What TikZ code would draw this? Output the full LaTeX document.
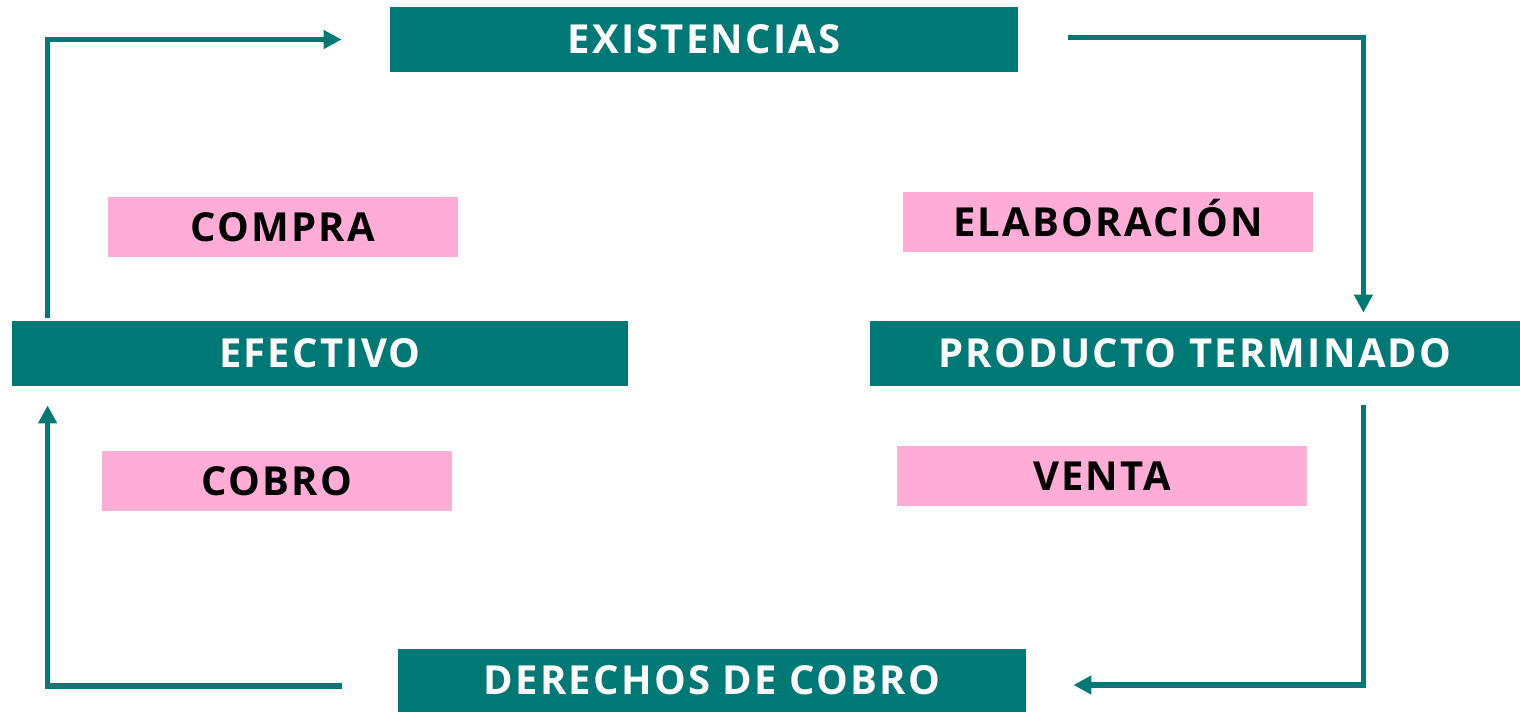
\documentclass[tikz,border=0pt]{standalone}
\usepackage{fontspec}
\setmainfont{Open Sans}[LetterSpace=5.5]
\usetikzlibrary{arrows.meta}
\definecolor{tealc}{RGB}{0,120,118}
\definecolor{pinkc}{RGB}{255,173,214}
\tikzset{
  box/.style={rectangle, inner sep=0pt, font=\fontsize{20}{24}\selectfont\bfseries, text height=14.3pt, text depth=0pt},
  tealbox/.style={box, fill=tealc, text=white, minimum height=32.5pt},
  pinkbox/.style={box, fill=pinkc, text=black, minimum height=30pt},
  arr/.style={draw=tealc, line width=2.75pt, line join=miter, -{Triangle[length=9pt,width=9pt]}}
}
\begin{document}
\begin{tikzpicture}[x=0.5pt,y=-0.5pt]
\useasboundingbox (0,0) rectangle (1520,713);
\node[tealbox, minimum width=314pt] (ex) at (704,39.5) {EXISTENCIAS};
\node[tealbox, minimum width=308pt] (ef) at (320,353.5) {EFECTIVO};
\node[tealbox, minimum width=325pt] (pt) at (1195,353.5) {PRODUCTO TERMINADO};
\node[tealbox, minimum width=314pt, minimum height=31.5pt] (de) at (712,680.5) {DERECHOS DE COBRO};
\node[pinkbox, minimum width=175pt] (compra) at (283,227) {COMPRA};
\node[pinkbox, minimum width=205pt] (elab) at (1108,222) {ELABORACIÓN};
\node[pinkbox, minimum width=175pt] (cobro) at (277,481) {COBRO};
\node[pinkbox, minimum width=205pt] (venta) at (1102,476) {VENTA};
\draw[arr] ([xshift=18pt,yshift=1.5pt]ef.north west) |- ([xshift=-24pt]ex.west);
\draw[arr] ([xshift=25pt,yshift=1pt]ex.east) -| ([xshift=-78.5pt,yshift=4pt]pt.north east);
\draw[arr] ([xshift=-78.5pt,yshift=-9.5pt]pt.south east) |- ([xshift=23.5pt,yshift=-2.25pt]de.east);
\draw[arr] ([xshift=-28pt,yshift=-2.75pt]de.west) -| ([xshift=18pt,yshift=-9.5pt]ef.south west);
\end{tikzpicture}
\end{document}
